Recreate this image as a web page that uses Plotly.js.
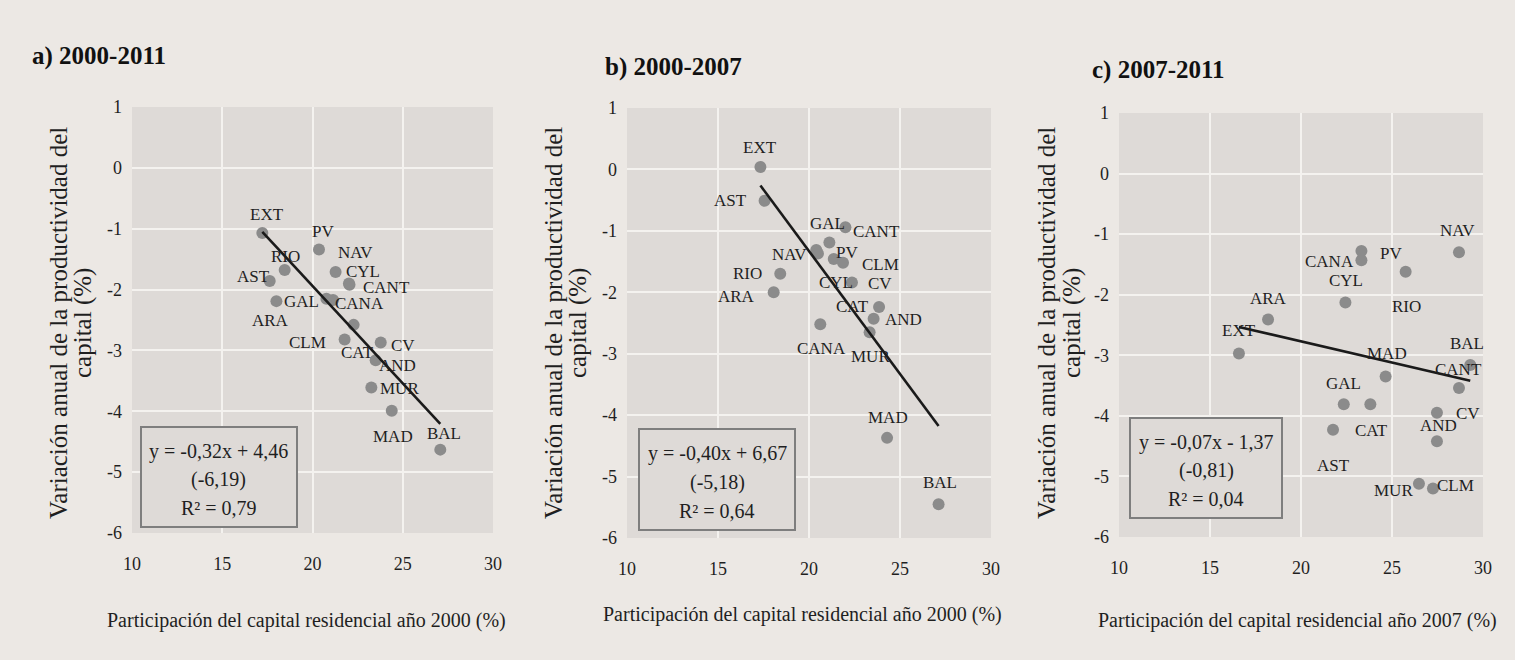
<!DOCTYPE html>
<html>
<head>
<meta charset="utf-8">
<script src="https://cdn.plot.ly/plotly-3.0.1.min.js"></script>
<style>
  html, body { margin: 0; padding: 0; background: #ECE8E4; }
  #chart { width: 1515px; height: 660px; }
</style>
</head>
<body>
<div id="chart"></div>
<script>
// Regions (same order in every panel)
const regions = ['AND','ARA','AST','BAL','CANA','CANT','CYL','CLM','CAT','CV','EXT','GAL','MAD','MUR','NAV','PV','RIO'];

// a) 2000-2011
const xA = [23.50, 18.00, 17.63, 27.08, 21.14, 22.05, 22.02, 21.78, 22.28, 23.78, 17.22, 20.77, 24.39, 23.26, 21.28, 20.36, 18.46];
const yA = [-3.16, -2.19, -1.86, -4.63, -2.17, -1.92, -1.90, -2.82, -2.58, -2.87, -1.07, -2.15, -3.99, -3.61, -1.71, -1.34, -1.68];

// b) 2000-2007
const xB = [23.55, 18.06, 17.56, 27.12, 20.62, 22.00, 21.36, 21.87, 22.36, 23.85, 17.33, 21.12, 24.29, 23.33, 20.40, 20.49, 18.42];
const yB = [-2.43, -2.00, -0.51, -5.45, -2.52, -0.94, -1.46, -1.52, -1.84, -2.24, 0.04, -1.19, -4.37, -2.65, -1.31, -1.37, -1.70];

// c) 2007-2011
const xC = [27.47, 18.19, 21.76, 29.30, 23.32, 28.68, 22.44, 27.25, 23.81, 27.47, 16.59, 22.35, 24.65, 26.48, 28.68, 23.32, 25.75];
const yC = [-4.42, -2.41, -4.23, -3.16, -1.43, -3.54, -2.13, -5.20, -3.81, -3.95, -2.97, -3.81, -3.35, -5.12, -1.30, -1.28, -1.62];

// Axis ticks
const xTickVals = [10, 15, 20, 25, 30];
const xTickText = ['10', '15', '20', '25', '30'];
const yTickVals = [1, 0, -1, -2, -3, -4, -5, -6];
const yTickText = ['1', '0', '-1', '-2', '-3', '-4', '-5', '-6'];

// Fitted trend lines and statistics
const panelTitles = ['a) 2000-2011', 'b) 2000-2007', 'c) 2007-2011'];
const xTitles = ['Participación del capital residencial año 2000 (%)',
                 'Participación del capital residencial año 2000 (%)',
                 'Participación del capital residencial año 2007 (%)'];
const yTitleLines = ['Variación anual de la productividad del', 'capital (%)'];
const slopes = [-0.32, -0.40, -0.07];
const intercepts = [4.46, 6.67, -1.37];
const tStats = [-6.19, -5.18, -0.81];
const rSquared = [0.79, 0.64, 0.04];

// ---- layout helpers (pixel -> paper) ----
const W = 1515, H = 660;
const px = v => v / W;
const py = v => 1 - v / H;

const FONT = '"Liberation Serif", "Times New Roman", serif';
const INK = '#1f1f1f';

// label placement in px relative to each point [dx, dy] (dy downward)
const labelOffsets = [
  { EXT:[5,-18], PV:[4,-18], RIO:[1,-14], AST:[-16,-5], NAV:[20,-19], CYL:[14,-12], CANT:[37,3],
    ARA:[-6,19], GAL:[-25,3], CANA:[26,4], CLM:[-37,3], CAT:[4,28], CV:[22,3], AND:[22,5],
    MUR:[28,1], MAD:[1,26], BAL:[4,-16] },
  { EXT:[0,-19], AST:[-34,0], GAL:[-2,-19], CANT:[31,4], NAV:[-27,5], PV:[29,-1], CYL:[2,23],
    CLM:[37,2], CAT:[1,24], CV:[1,-24], AND:[30,1], MUR:[1,24], MAD:[1,-20], BAL:[1,-22],
    RIO:[-33,0], ARA:[-37,4], CANA:[1,24] },
  { EXT:[0,-23], ARA:[0,-21], PV:[30,2], CANA:[-32,1], RIO:[1,35], CYL:[1,-22], NAV:[-1,-22],
    BAL:[-3,-21], CANT:[0,-18], MAD:[1,-23], GAL:[0,-21], CAT:[1,26], AST:[0,36], CV:[31,1],
    AND:[2,-16], MUR:[-25,7], CLM:[23,-3] }
];

// panel frames in px: plot-area left/right/top/bottom, box, titles
const frames = [
  { l:132, r:493, t:107, b:533, box:[141,427,297,527], title:[30,56], xt:[306,620], yt:[58,83,323] },
  { l:627, r:991, t:108, b:538, box:[639,429,795,530], title:[603,67], xt:[802,614], yt:[553,578,323] },
  { l:1119, r:1483, t:113, b:537, box:[1130,418,1282,518], title:[1090,70], xt:[1297,620], yt:[1046,1072,323] }
];

const xs = [xA, xB, xC], ys = [yA, yB, yC];
const fmt = v => v.toFixed(2).replace('.', ',');

const traces = [];
const annotations = [];
const shapes = [];
const layout = {
  width: W, height: H,
  margin: { l: 0, r: 0, t: 0, b: 0 },
  paper_bgcolor: '#ECE8E4',
  plot_bgcolor: '#DEDAD7',
  showlegend: false,
  font: { family: FONT, color: INK }
};

frames.forEach((f, i) => {
  const n = i === 0 ? '' : String(i + 1);
  const xa = 'x' + n, ya = 'y' + n;

  layout['xaxis' + n] = {
    domain: [px(f.l), px(f.r)], anchor: ya, range: [10, 30],
    tickmode: 'array', tickvals: xTickVals, ticktext: xTickText,
    showgrid: true, gridcolor: '#F4F2EF', gridwidth: 2, zeroline: false, showline: false,
    ticks: '', ticklabelstandoff: 18, tickfont: { family: FONT, size: 18, color: INK },
    fixedrange: true
  };
  layout['yaxis' + n] = {
    domain: [py(f.b), py(f.t)], anchor: xa, range: [-6, 1],
    tickmode: 'array', tickvals: yTickVals, ticktext: yTickText,
    showgrid: true, gridcolor: '#F4F2EF', gridwidth: 2, zeroline: false, showline: false,
    ticks: '', ticklabelstandoff: 9, tickfont: { family: FONT, size: 18, color: INK },
    fixedrange: true
  };

  // points
  traces.push({
    type: 'scatter', mode: 'markers', x: xs[i], y: ys[i], xaxis: xa, yaxis: ya,
    text: regions, hoverinfo: 'text',
    marker: { size: 12, color: '#8B8B8B' }, cliponaxis: false
  });

  // trend line from the stated equation, over the data's x extent
  const x0 = Math.min(...xs[i]), x1 = Math.max(...xs[i]);
  traces.push({
    type: 'scatter', mode: 'lines', x: [x0, x1],
    y: [slopes[i] * x0 + intercepts[i], slopes[i] * x1 + intercepts[i]],
    xaxis: xa, yaxis: ya, hoverinfo: 'skip',
    line: { color: '#1a1a1a', width: 2.6 }
  });

  // region labels
  regions.forEach((r, k) => {
    const o = labelOffsets[i][r] || [0, -18];
    annotations.push({
      xref: xa, yref: ya, x: xs[i][k], y: ys[i][k], text: r, showarrow: false,
      xshift: o[0], yshift: -o[1], xanchor: 'center', yanchor: 'middle',
      font: { family: FONT, size: 17, color: INK }
    });
  });

  // equation box
  const [bl, bt, br, bb] = f.box;
  shapes.push({
    type: 'rect', xref: 'paper', yref: 'paper',
    x0: px(bl), x1: px(br), y0: py(bb), y1: py(bt),
    line: { color: '#7E7E7E', width: 2 }, fillcolor: '#DEDAD7', layer: 'above'
  });
  const cx = (bl + br) / 2, h = bb - bt;
  const sign = intercepts[i] < 0 ? ' - ' : ' + ';
  const lines = [
    'y = ' + fmt(slopes[i]) + 'x' + sign + fmt(Math.abs(intercepts[i])),
    '(' + fmt(tStats[i]) + ')',
    'R² = ' + fmt(rSquared[i])
  ];
  lines.forEach((t, j) => {
    annotations.push({
      xref: 'paper', yref: 'paper', x: px(cx), y: py(bt + h * (0.23 + 0.285 * j) + 1),
      text: t, showarrow: false, xanchor: 'center', yanchor: 'middle',
      font: { family: FONT, size: 20, color: INK }
    });
  });

  // panel title
  annotations.push({
    xref: 'paper', yref: 'paper', x: px(f.title[0]), y: py(f.title[1]),
    text: '<b>' + panelTitles[i] + '</b>', showarrow: false, xanchor: 'left', yanchor: 'middle',
    font: { family: FONT, size: 25, color: '#111' }
  });

  // x-axis title
  annotations.push({
    xref: 'paper', yref: 'paper', x: px(f.xt[0]), y: py(f.xt[1]),
    text: xTitles[i], showarrow: false, xanchor: 'center', yanchor: 'middle',
    font: { family: FONT, size: 20, color: INK }
  });

  // y-axis title (two lines)
  yTitleLines.forEach((t, j) => {
    annotations.push({
      xref: 'paper', yref: 'paper', x: px(f.yt[j]), y: py(f.yt[2]),
      text: t, showarrow: false, textangle: -90, xanchor: 'center', yanchor: 'middle',
      font: { family: FONT, size: 25, color: INK }
    });
  });
});

layout.annotations = annotations;
layout.shapes = shapes;

Plotly.newPlot('chart', traces, layout, { displayModeBar: false, staticPlot: true });
</script>
</body>
</html>
